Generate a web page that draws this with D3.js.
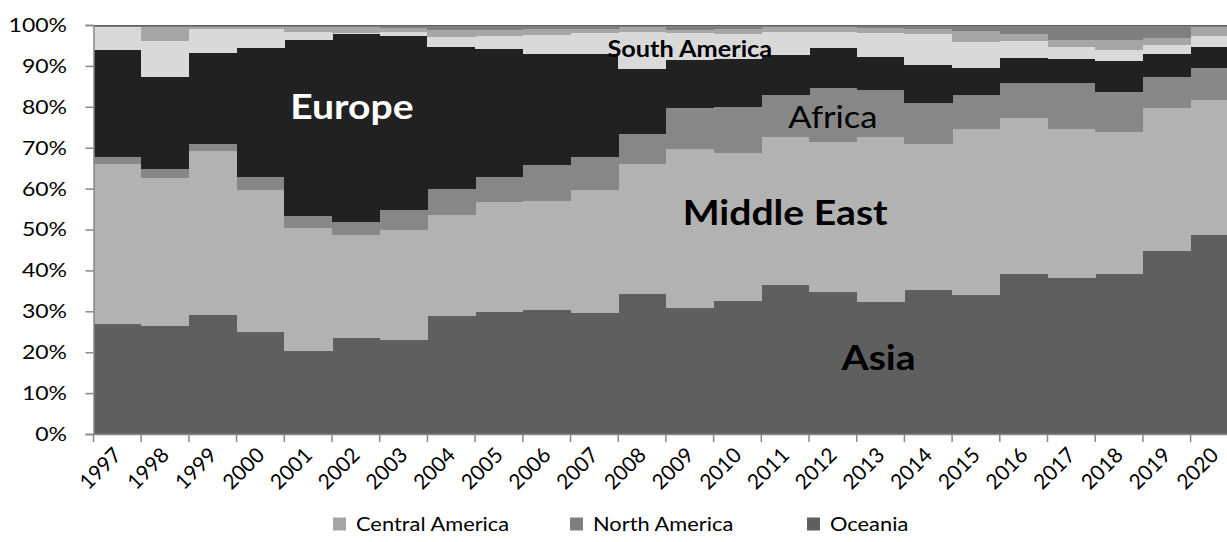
<!DOCTYPE html>
<html>
<head>
<meta charset="utf-8">
<script src="https://cdn.jsdelivr.net/npm/d3@7"></script>
<style>
  html, body { margin: 0; padding: 0; background: #fff; }
  svg { display: block; }
  text { font-family: Lato, "Open Sans", sans-serif; }
</style>
</head>
<body>
<svg id="chart" width="1227" height="542"></svg>
<script>
// ---- data (shares in %, per year) ----
const years = ["1997","1998","1999","2000","2001","2002","2003","2004","2005","2006","2007","2008",
               "2009","2010","2011","2012","2013","2014","2015","2016","2017","2018","2019","2020"];
const asia          = [26.8,26.4,29.0,25.0,20.4,23.4,22.9,28.8,29.9,30.2,29.6,34.2,30.9,32.5,36.4,34.6,32.3,35.2,33.9,39.0,38.2,39.0,44.7,48.6];
const middleEast    = [39.1,36.3,40.2,34.7,30.0,25.3,27.0,24.7,26.9,26.8,30.1,31.8,38.8,36.3,36.3,36.9,40.4,35.7,40.7,38.3,36.4,34.9,35.1,33.1];
const africa        = [1.9,2.1,1.7,3.1,2.8,3.1,4.8,6.4,6.1,8.8,8.0,7.3,9.9,11.1,10.2,13.2,11.4,10.1,8.3,8.6,11.1,9.8,7.4,7.9];
const europe        = [26.0,22.6,22.3,31.6,43.2,46.1,42.6,34.8,31.2,27.0,25.1,15.9,11.8,11.7,9.7,9.7,8.1,9.2,6.5,6.0,5.9,7.5,5.6,5.0];
const southAmerica  = [5.6,8.6,5.7,4.7,1.8,0.1,0.9,2.3,3.2,4.8,5.2,9.2,6.6,6.2,5.8,4.0,5.8,7.5,6.5,4.1,2.9,2.8,2.2,2.6];
const centralAmerica= [0.1,3.5,0.6,0.3,1.2,1.4,1.1,1.8,1.5,1.4,1.0,1.0,0.8,1.1,1.0,1.0,1.2,1.2,2.6,1.9,1.9,2.4,1.8,2.2];
const northAmerica  = [0.3,0.3,0.3,0.4,0.4,0.4,0.5,0.9,0.9,0.7,0.7,0.4,0.9,0.8,0.4,0.4,0.6,0.8,1.2,1.8,3.3,3.3,2.9,0.4];
const oceania       = [0.2,0.2,0.2,0.2,0.2,0.2,0.2,0.3,0.3,0.3,0.3,0.2,0.3,0.3,0.2,0.2,0.2,0.3,0.3,0.3,0.3,0.3,0.3,0.2];

const seriesNames  = ["Asia","Middle East","Africa","Europe","South America","Central America","North America","Oceania"];
const seriesValues = [asia, middleEast, africa, europe, southAmerica, centralAmerica, northAmerica, oceania];
const seriesColors = ["#5f5f5f","#b2b2b2","#878787","#212121","#d9d9d9","#a6a6a6","#7f7f7f","#5f5f5f"];
const legendNames  = ["Central America","North America","Oceania"];
const yTicks = [0,0.1,0.2,0.3,0.4,0.5,0.6,0.7,0.8,0.9,1.0];

// ---- build table ----
const table = years.map((yr, i) => {
  const row = { year: yr };
  seriesNames.forEach((n, k) => row[n] = seriesValues[k][i]);
  return row;
});

const svg = d3.select("#chart");
const plotLeft = 93.5, bandW = 47.7, plotTop = 25, plotBottom = 434;
const SX = 1.15; // horizontal stretch of the text, as in the reference
const x = d3.scaleBand().domain(years).range([plotLeft, plotLeft + bandW * years.length]).padding(0);
const y = d3.scaleLinear().domain([0, 1]).range([plotBottom, plotTop]);
const color = d3.scaleOrdinal().domain(seriesNames).range(seriesColors);

const stacked = d3.stack().keys(seriesNames).offset(d3.stackOffsetExpand)(table);

svg.append("g").selectAll("g").data(stacked).join("g")
  .attr("fill", d => color(d.key))
  .selectAll("rect").data(d => d).join("rect")
  .attr("x", d => x(d.data.year))
  .attr("width", x.bandwidth() + 0.5)
  .attr("y", d => y(d[1]))
  .attr("height", d => Math.max(0, y(d[0]) - y(d[1])))
  .attr("shape-rendering", "crispEdges");

// ---- y axis ----
const yAxis = svg.append("g").attr("transform", `translate(${plotLeft},0)`)
  .call(d3.axisLeft(y).tickValues(yTicks).tickFormat(d3.format(".0%")).tickSize(8).tickPadding(18));
yAxis.select(".domain").attr("stroke", "#868686").attr("stroke-width", 1.5);
yAxis.selectAll(".tick line").attr("stroke", "#868686").attr("stroke-width", 1.5);
yAxis.selectAll(".tick text")
  .attr("x", 0)
  .attr("transform", `translate(-26.5,0) scale(${SX},1)`)
  .attr("font-size", 20).attr("fill", "#000")
  .attr("font-family", "Lato, sans-serif");

// ---- x axis ----
const xg = svg.append("g").attr("transform", `translate(0,${plotBottom})`);
xg.append("line").attr("x1", plotLeft).attr("x2", 1227).attr("y1", 0.5).attr("y2", 0.5)
  .attr("stroke", "#868686").attr("stroke-width", 1.5);
xg.selectAll("line.tk").data(years).join("line").attr("class", "tk")
  .attr("x1", d => x(d)).attr("x2", d => x(d)).attr("y1", 0).attr("y2", 8)
  .attr("stroke", "#868686").attr("stroke-width", 1.5);
xg.selectAll("text").data(years).join("text")
  .attr("transform", d => `translate(${x(d) + x.bandwidth() / 2 - 5},${12}) rotate(-45)`)
  .attr("text-anchor", "end")
  .attr("dy", "0.7em")
  .attr("font-size", 21)
  .text(d => d);

// ---- in-chart labels ----
const labels = [
  { text: "Europe", year: "2002", dx: -4, v: 0.80, size: 34, weight: "bold", fill: "#fff" },
  { text: "Middle East", year: "2011", dx: 0, v: 0.54, size: 34, weight: "bold", fill: "#000" },
  { text: "Asia", year: "2013", dx: -2, v: 0.185, size: 34, weight: "bold", fill: "#000" },
  { text: "Africa", year: "2012", dx: 0, v: 0.775, size: 30, weight: "normal", fill: "#000" },
  { text: "South America", year: "2009", dx: 0, v: 0.94, size: 22, weight: "bold", fill: "#000" }
];
svg.append("g").selectAll("text").data(labels).join("text")
  .attr("transform", d => `translate(${x(d.year) + x.bandwidth() / 2 + d.dx},${y(d.v)}) scale(${SX},1)`)
  .attr("dy", "0.35em")
  .attr("text-anchor", "middle")
  .attr("font-size", d => d.size)
  .attr("font-weight", d => d.weight)
  .attr("fill", d => d.fill)
  .text(d => d.text);

// ---- legend ----
const legendX = [333, 570, 807];
const lg = svg.append("g").selectAll("g").data(legendNames).join("g")
  .attr("transform", (d, i) => `translate(${legendX[i]},524)`);
lg.append("rect").attr("x", 0).attr("y", -6.5).attr("width", 13).attr("height", 13)
  .attr("fill", d => color(d));
lg.append("text")
  .attr("transform", `translate(23,0) scale(${SX},1)`)
  .attr("dy", "0.35em")
  .attr("font-size", 19).text(d => d);
</script>
</body>
</html>
